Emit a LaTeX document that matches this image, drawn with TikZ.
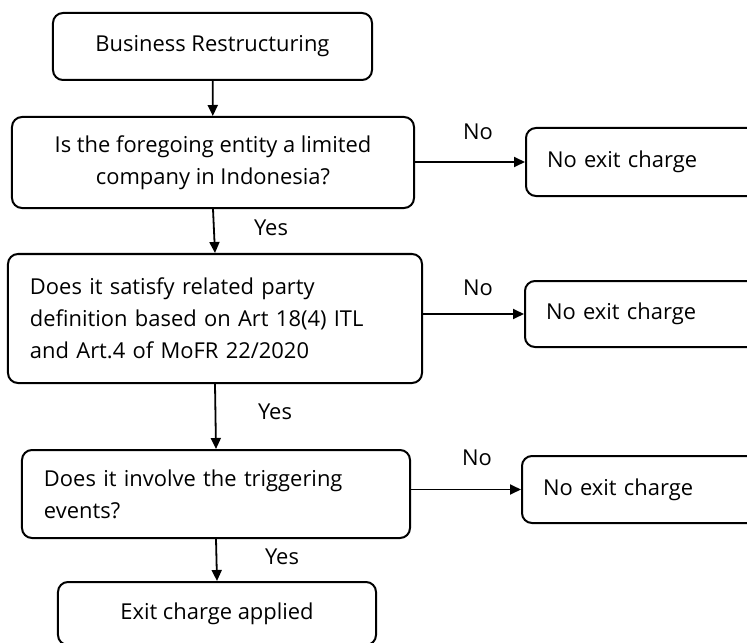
\documentclass[tikz,border=0pt]{standalone}
\usepackage{fontspec}
\setmainfont{Open Sans}
\usetikzlibrary{arrows.meta,positioning}
\tikzset{
    flow box/.style={
        draw,
        line width=2bp,
        rounded corners=10bp,
        inner sep=0pt,
        align=center,
        font=\fontsize{22}{32}\selectfont
    },
    flow left/.style={
        flow box,
        inner xsep=22bp,
        align=left
    },
    flow arrow/.style={
        line width=1.8bp,
        -{Triangle[length=11bp,width=10bp]}
    },
    flow label/.style={
        font=\fontsize{22}{26}\selectfont
    }
}
\begin{document}
\begin{tikzpicture}[x=1bp,y=-1bp]
    \useasboundingbox (0,0) rectangle (747,643);
    \clip (0,0) rectangle (747,643);
    % main column
    \node[flow box, minimum width=319bp, minimum height=67bp] (start) at (212.5,46.5) {Business Restructuring};
    \node[flow box, minimum width=402bp, minimum height=91bp] (askLtd) at (213,162.5)
        {Is the foregoing entity a limited\\company in Indonesia?};
    \node[flow left, text width=370bp, minimum height=129bp] (askRel) at (215,318.5)
        {Does it satisfy related party\\definition based on Art 18(4) ITL\\and Art.4 of MoFR 22/2020};
    \node[flow left, text width=344bp, minimum height=88bp] (askTrig) at (216,494)
        {Does it involve the triggering\\events?};
    \node[flow box, minimum width=318bp, minimum height=63bp] (charge) at (217,613.5) {Exit charge applied};
    % right column
    \node[flow left, inner xsep=21bp, text width=212bp, minimum height=68bp] (noA) at (653,162) {No exit charge};
    \node[flow left, inner xsep=21bp, text width=213bp, minimum height=66bp] (noB) at (652.5,314) {No exit charge};
    \node[flow left, inner xsep=21bp, text width=216bp, minimum height=67bp] (noC) at (651,489.5) {No exit charge};
    % connectors
    \draw[flow arrow] (start) -- (askLtd);
    \draw[flow arrow] (askLtd.south) -- (askRel.north);
    \draw[flow arrow] (askRel.south) -- (askTrig.north);
    \draw[flow arrow] (askTrig.south) -- (charge.north);
    \draw[flow arrow] (askLtd.east |- noA.west) -- (noA.west);
    \draw[flow arrow] (askRel.east |- noB.west) -- (noB.west);
    \draw[flow arrow] (askTrig.east |- noC.west) -- (noC.west);
    % labels
    \node[flow label] (noLblA) at (478,132) {No};
    \node[flow label] (yesLblA) at (271,228) {Yes};
    \node[flow label] (noLblB) at (478,288) {No};
    \node[flow label] (yesLblB) at (275,412) {Yes};
    \node[flow label] (noLblC) at (477,458) {No};
    \node[flow label] (yesLblC) at (282,557) {Yes};
\end{tikzpicture}
\end{document}
